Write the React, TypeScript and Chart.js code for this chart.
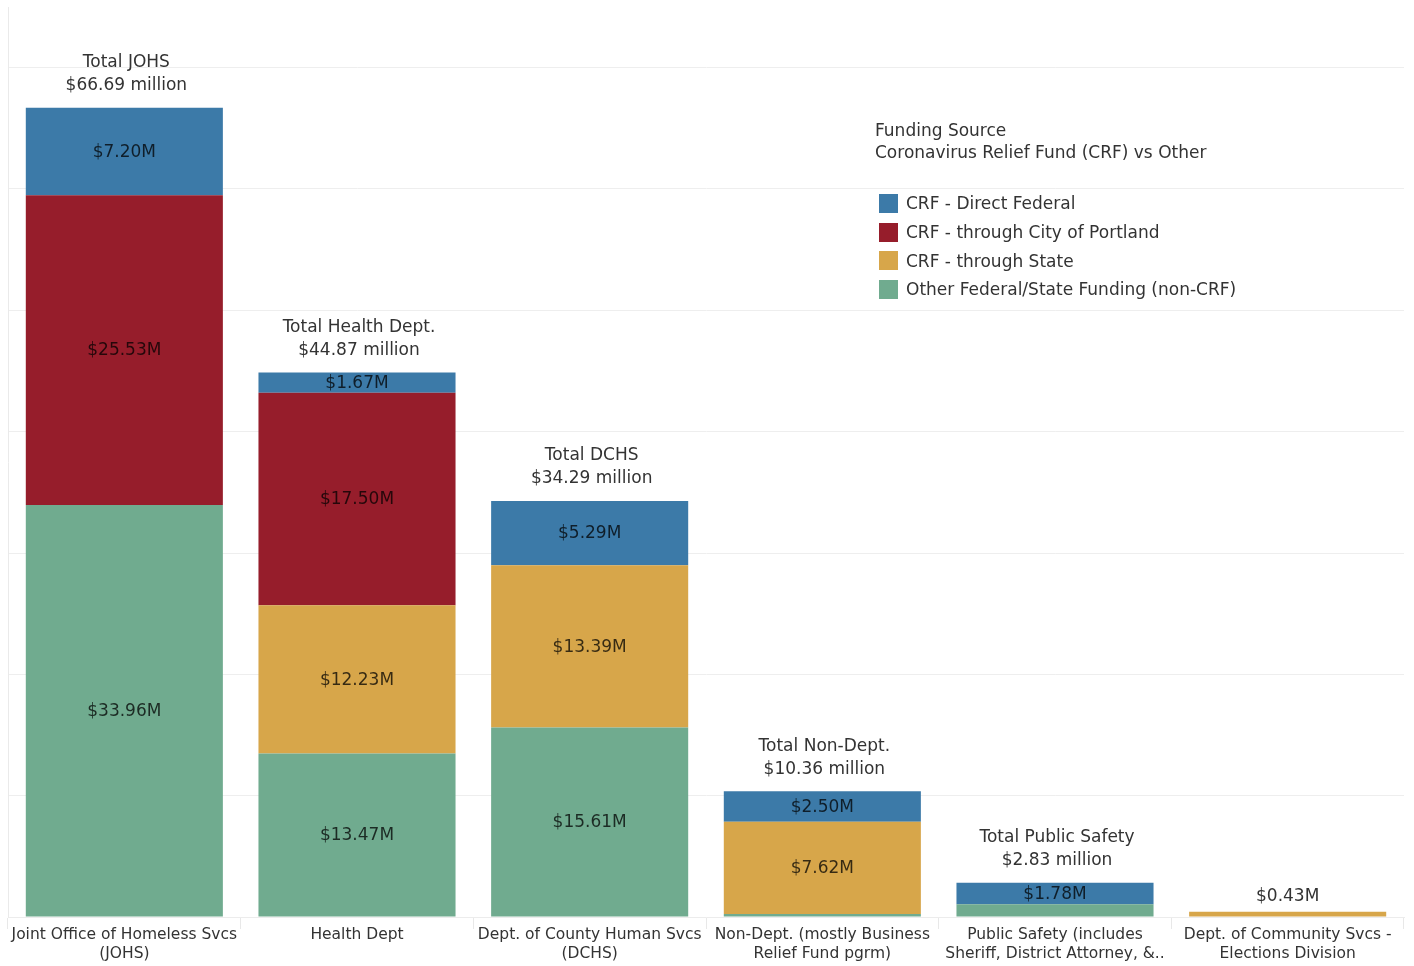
import React, { useEffect, useRef } from "react";
import { Chart, registerables } from "chart.js";

Chart.register(...registerables);

const categories: string[][] = [
  ["Joint Office of Homeless Svcs", "(JOHS)"],
  ["Health Dept"],
  ["Dept. of County Human Svcs", "(DCHS)"],
  ["Non-Dept. (mostly Business", "Relief Fund pgrm)"],
  ["Public Safety (includes", "Sheriff, District Attorney, &.."],
  ["Dept. of Community Svcs -", "Elections Division"],
];

const crfDirect = [7.2, 1.67, 5.29, 2.5, 1.78, 0];
const crfCity = [25.53, 17.5, 0, 0, 0, 0];
const crfState = [0, 12.23, 13.39, 7.62, 0, 0.43];
const otherFunding = [33.96, 13.47, 15.61, 0.24, 1.05, 0];

const totalTitles = [
  "Total JOHS",
  "Total Health Dept.",
  "Total DCHS",
  "Total Non-Dept.",
  "Total Public Safety",
  "",
];

const seriesNames = [
  "CRF - Direct Federal",
  "CRF - through City of Portland",
  "CRF - through State",
  "Other Federal/State Funding (non-CRF)",
];
const seriesColors = ["#3c7aa8", "#961d2b", "#d7a64a", "#70ab8f"];

const FONT = '"DejaVu Sans", Verdana, sans-serif';
const TEXT = "#333333";

const fmtM = (v: number) => "$" + v.toFixed(2) + "M";

const labelPlugin = {
  id: "segLabels",
  afterDatasetsDraw(chart: any) {
    const ctx = chart.ctx;
    const yScale = chart.scales.y;
    ctx.save();
    ctx.textAlign = "center";
    ctx.textBaseline = "middle";
    ctx.font = `17px ${FONT}`;
    chart.data.datasets.forEach((ds: any, di: number) => {
      const meta = chart.getDatasetMeta(di);
      meta.data.forEach((el: any, i: number) => {
        const v = ds.data[i];
        if (!v) return;
        const h = el.base - el.y;
        if (h < 16) return;
        ctx.fillStyle = "rgba(0,0,0,0.75)";
        ctx.fillText(fmtM(v), el.x, (el.y + el.base) / 2 + 1);
      });
    });
    // totals
    const meta0 = chart.getDatasetMeta(0);
    categories.forEach((_, i) => {
      const sum =
        crfDirect[i] + crfCity[i] + crfState[i] + otherFunding[i];
      const x = meta0.data[i].x;
      const top = yScale.getPixelForValue(sum);
      ctx.fillStyle = TEXT;
      if (totalTitles[i]) {
        ctx.fillText(totalTitles[i], x + 2, top - 45);
        ctx.fillText("$" + sum.toFixed(2) + " million", x + 2, top - 22);
      } else {
        ctx.fillText(fmtM(sum), x, top - 15);
      }
    });
    ctx.restore();
  },
};

export default function App() {
  const ref = useRef<HTMLCanvasElement | null>(null);
  useEffect(() => {
    if (!ref.current) return;
    const stackOrder = [3, 2, 1, 0];
    const values = [crfDirect, crfCity, crfState, otherFunding];
    const chart = new Chart(ref.current, {
      type: "bar",
      data: {
        labels: categories,
        datasets: stackOrder.map((k) => ({
          label: seriesNames[k],
          data: values[k],
          backgroundColor: seriesColors[k],
          borderWidth: 0,
          barPercentage: 0.847,
          categoryPercentage: 1,
          stack: "s",
        })),
      },
      options: {
        animation: false,
        responsive: false,
        maintainAspectRatio: false,
        layout: { padding: { left: 8, top: 7, right: 10, bottom: 0 } },
        plugins: {
          legend: { display: false },
          tooltip: { enabled: false },
        },
        scales: {
          x: {
            stacked: true,
            offset: true,
            grid: {
              display: true,
              drawOnChartArea: false,
              drawTicks: true,
              tickLength: 12,
              color: "#e8e8e8",
              offset: true,
            },
            border: { display: true, color: "#ececec" },
            ticks: {
              color: TEXT,
              font: { family: FONT, size: 15.5, lineHeight: 1.25 },
              padding: -4,
              maxRotation: 0,
              autoSkip: false,
            },
            afterFit: (scale: any) => {
              scale.height = 49;
            },
          },
          y: {
            stacked: true,
            min: 0,
            max: 75,
            ticks: { display: false, stepSize: 10 },
            grid: {
              drawTicks: false,
              color: (c: any) =>
                c.tick && c.tick.value % 10 === 0 ? "#eeeeee" : "rgba(0,0,0,0)",
            },
            border: { display: true, color: "#eaeaea" },
          },
        },
      },
      plugins: [labelPlugin],
    });
    return () => chart.destroy();
  }, []);

  const legendOrder = [0, 1, 2, 3];
  return (
    <div
      style={{
        position: "fixed",
        left: 0,
        top: 0,
        width: 1414,
        height: 966,
        background: "#ffffff",
        overflow: "hidden",
      }}
    >
      <canvas ref={ref} width={1414} height={966} style={{ display: "block" }} />
      <div
        style={{
          position: "absolute",
          left: 875,
          top: 119,
          fontFamily: FONT,
          fontSize: 17,
          color: TEXT,
          lineHeight: "22px",
          whiteSpace: "nowrap",
        }}
      >
        <div>Funding Source</div>
        <div>Coronavirus Relief Fund (CRF) vs Other</div>
        <div style={{ height: 26 }} />
        {legendOrder.map((k) => (
          <div
            key={k}
            style={{ display: "flex", alignItems: "center", height: 28.7 }}
          >
            <span
              style={{
                display: "inline-block",
                width: 19,
                height: 19,
                marginLeft: 4,
                marginRight: 8,
                background: seriesColors[k],
              }}
            />
            <span>{seriesNames[k]}</span>
          </div>
        ))}
      </div>
    </div>
  );
}
